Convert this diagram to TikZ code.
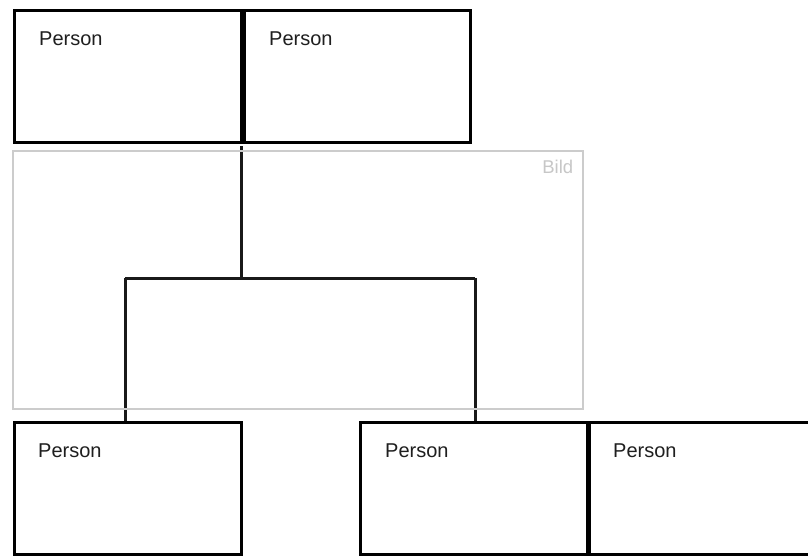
\documentclass[tikz,border=0pt]{standalone}
\usepackage{fontspec}
\setmainfont{Liberation Sans}
\usetikzlibrary{calc}
\begin{document}
\begin{tikzpicture}[x=1pt,y=-1pt,
  pbox/.style={draw=black,line width=2.8pt,fill=white,anchor=north west,inner sep=0pt,minimum width=227pt,minimum height=132pt},
  ptext/.style={anchor=base west,inner sep=0pt,font=\fontsize{20pt}{24pt}\selectfont,text=black!88},
  conn/.style={draw=black!90,line width=3pt},
  frame/.style={draw=black!20,line width=2.4pt,anchor=north west,inner sep=0pt,minimum width=570pt,minimum height=258pt}]
\useasboundingbox (0,0) rectangle (808,557);
\fill[white] (0,0) rectangle (808,557);
% connectors
\coordinate (top) at (241,146);
\coordinate (mid) at (241,278);
\coordinate (jl) at (125,278);
\coordinate (jr) at (475,278);
% boxes
\node[pbox] (p1) at (13,9) {};
\node[pbox,minimum width=226pt] (p2) at (243,9) {};
\node[pbox] (p3) at (13,421) {};
\node[pbox] (p4) at (359,421) {};
\node[pbox,minimum width=240pt] (p5) at (588,421) {};
\coordinate (bl) at (125,421);
\coordinate (br) at (475,421);
\draw[conn] (top) -- (mid);
\draw[conn] (jl) -- (jr);
\draw[conn] (jl) -- (bl);
\draw[conn] (jr) -- (br);
% frame
\node[frame] (bild) at (12,150) {};
\node[anchor=base east,inner sep=0pt,font=\fontsize{18.5pt}{22pt}\selectfont,text=black!22] (bildlabel) at ($(bild.north east)+(-11,23)$) {Bild};
% labels
\node[ptext] (t1) at (39,45) {Person};
\node[ptext] (t2) at (269,45) {Person};
\node[ptext] (t3) at (38,457) {Person};
\node[ptext] (t4) at (385,457) {Person};
\node[ptext] (t5) at (613,457) {Person};
\end{tikzpicture}
\end{document}
